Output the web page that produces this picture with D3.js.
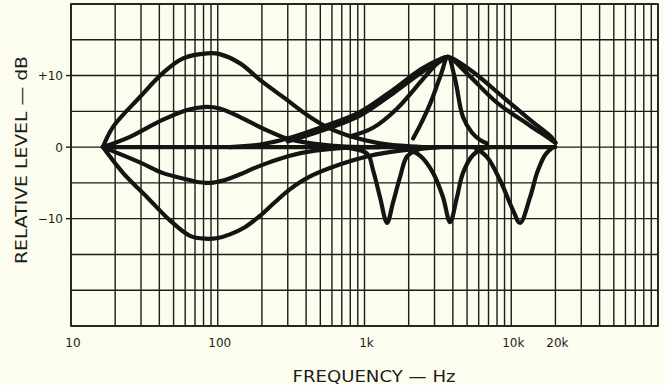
<!DOCTYPE html>
<html>
<head>
<meta charset="utf-8">
<script src="https://cdn.jsdelivr.net/npm/d3@7"></script>
<style>
  html, body { margin: 0; padding: 0; background: #fcfcef; }
  svg { display: block; }
</style>
</head>
<body>
<svg id="chart" width="665" height="385"></svg>
<script>
// Frequency-response curves of a graphic / parametric equaliser, [Hz, dB]
const flatResponse = [[16.5, 0], [20000, 0]];

const bassBoostMax = [[16.5, 0], [19.3, 2.8], [29.5, 7], [42, 10.3], [58, 12.4], [85, 13.1], [103, 13],
  [142, 11.7], [194, 9.4], [296, 6.6], [406, 4.5], [555, 2.8], [835, 1.4], [1220, 0.6], [1750, 0.2], [2500, 0]];
const bassBoostHalf = [[16.5, 0], [25, 1.4], [42, 3.8], [62, 5.2], [80, 5.6], [103, 5.4], [142, 4.2],
  [203, 2.6], [296, 1.2], [445, 0.5], [700, 0.1], [1000, 0]];
const bassCutHalf = [[16.5, 0], [30, -2.2], [42, -3.6], [64, -4.6], [70, -4.8], [88.5, -5], [112, -4.6],
  [142, -3.8], [179, -2.9], [227, -2.1], [310, -1.2], [460, -0.5], [736, -0.1], [1276, 0]];
const bassCutMax = [[16.5, 0], [22.6, -3.6], [33, -7], [47, -10.2], [64.7, -12.4], [82, -12.8], [100, -12.7],
  [121, -12.2], [153, -11.2], [194, -9.6], [245, -7.7], [310, -5.9], [426, -4.1], [685, -2.4], [1090, -1.2],
  [1746, -0.5], [3273, 0]];

const trebleBoostWide = [[120, 0], [200, 0.4], [311, 1.3], [497, 2.7], [931, 4.9], [1563, 8], [2388, 10.8],
  [3273, 12.3], [3707, 12.6], [5236, 10.8], [8790, 7], [13430, 3.8], [18960, 1.3], [20000, 0.6]];
const trebleBoostMid = [[300, 0.8], [497, 2.2], [931, 4.4], [1563, 7.5], [2388, 10.3], [3273, 12.1], [3707, 12.6],
  [4990, 10.3], [8000, 6.2], [13430, 3], [18500, 1.1], [20000, 0.6]];
const trebleBoostNarrowish = [[800, 1.5], [1143, 2.7], [1650, 5.3], [2500, 9.5], [3100, 11.6], [3707, 12.6]];
const trebleBoostNarrow = [[2143, 1.2], [2388, 3], [2793, 6], [3273, 9.8], [3707, 12.6], [4140, 9.5],
  [4690, 4.2], [5405, 2], [6130, 1], [6842, 0.5]];

const notchLow = [[700, 0], [1040, -0.9], [1143, -3.2], [1276, -7], [1424, -10.6], [1563, -7.8],
  [1746, -4.2], [1950, -1.3], [2280, -0.4], [2700, 0]];
const notchMid = [[1800, 0], [2388, -1.2], [2931, -3.6], [3428, -7], [3828, -10.5], [4266, -7],
  [4690, -3.6], [5485, -1.1], [6414, -0.2], [7200, 0]];
const notchHigh = [[5600, 0], [6842, -1.4], [8380, -4.6], [10270, -8.8], [11480, -10.6], [13440, -7],
  [14990, -3.6], [17000, -1.1], [19270, 0]];

const curves = [flatResponse, bassBoostMax, bassBoostHalf, bassCutHalf, bassCutMax,
  trebleBoostWide, trebleBoostMid, trebleBoostNarrowish, trebleBoostNarrow, notchLow, notchMid, notchHigh];

// Axis ticks and labels
const freqTicks = [10, 100, 1000, 10000, 20000];
const freqLabels = ["10", "100", "1k", "10k", "20k"];
const levelTicks = [10, 0, -10];
const levelLabels = ["+10", "0", "\u221210"];
const gridLevels = [-25, -20, -15, -10, -5, 0, 5, 10, 15, 20];

const svg = d3.select("#chart");
const plotLeft = 71, plotRight = 658, plotTop = 4, plotBottom = 326;

const x = d3.scaleLog().domain([10, 100000]).range([plotLeft, plotRight]);
const y = d3.scaleLinear().domain([-25, 20]).range([plotBottom, plotTop]);

// log-frequency grid: 1..9 in every decade
const gridFreqs = [];
for (let d = 10; d < 100000; d *= 10) for (let m = 1; m <= 9; m++) gridFreqs.push(d * m);
gridFreqs.push(100000);

const ink = "#1c1c1a";
const grid = svg.append("g").attr("stroke", ink).attr("stroke-width", 1.4);
grid.selectAll("line.v").data(gridFreqs).join("line").attr("class", "v")
  .attr("x1", d => x(d)).attr("x2", d => x(d))
  .attr("y1", plotTop).attr("y2", plotBottom);
grid.selectAll("line.h").data(gridLevels).join("line").attr("class", "h")
  .attr("x1", plotLeft).attr("x2", plotRight)
  .attr("y1", d => y(d)).attr("y2", d => y(d));
grid.append("rect").attr("x", plotLeft).attr("y", plotTop)
  .attr("width", plotRight - plotLeft).attr("height", plotBottom - plotTop)
  .attr("fill", "none").attr("stroke-width", 1.6);

// short ticks at labelled levels
grid.selectAll("line.t").data(levelTicks).join("line").attr("class", "t")
  .attr("x1", plotLeft - 5).attr("x2", plotLeft)
  .attr("y1", d => y(d)).attr("y2", d => y(d));

// response curves
const line = d3.line().x(d => x(d[0])).y(d => y(d[1])).curve(d3.curveCatmullRom.alpha(0.5));
svg.append("g").selectAll("path").data(curves).join("path")
  .attr("d", line).attr("fill", "none").attr("stroke", "#141412")
  .attr("stroke-width", 4.2).attr("stroke-linecap", "round").attr("stroke-linejoin", "round");

const font = "'DejaVu Sans', sans-serif";
svg.append("g").selectAll("text").data(freqTicks).join("text")
  .attr("x", d => x(d) + 2).attr("y", 347).attr("text-anchor", "middle")
  .attr("font-family", font).attr("font-size", 12).attr("fill", ink)
  .text((d, i) => freqLabels[i]);

svg.append("g").selectAll("text").data(levelTicks).join("text")
  .attr("x", 63).attr("y", d => y(d) + 4.5).attr("text-anchor", "end")
  .attr("font-family", font).attr("font-size", 12).attr("fill", ink)
  .text((d, i) => levelLabels[i]);

svg.append("text").attr("x", 374).attr("y", 382).attr("text-anchor", "middle")
  .attr("font-family", font).attr("font-size", 16).attr("fill", ink)
  .attr("textLength", 163).attr("lengthAdjust", "spacingAndGlyphs")
  .text("FREQUENCY \u2014 Hz");

svg.append("text").attr("transform", "translate(27,160) rotate(-90)").attr("text-anchor", "middle")
  .attr("font-family", font).attr("font-size", 16).attr("fill", ink)
  .attr("textLength", 208).attr("lengthAdjust", "spacingAndGlyphs")
  .text("RELATIVE LEVEL \u2014 dB");
</script>
</body>
</html>
